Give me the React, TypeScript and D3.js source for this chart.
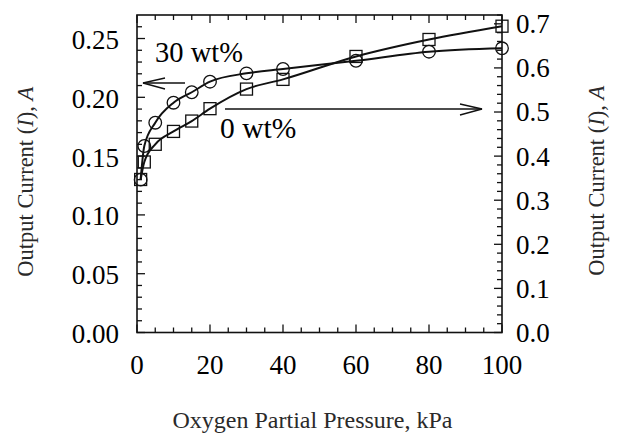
import React from "react";
import * as d3 from "d3";

const pressure = [1, 2, 5, 10, 15, 20, 30, 40, 60, 80, 100];
const current30 = [0.130, 0.1586, 0.1784, 0.1954, 0.2043, 0.2133, 0.2204, 0.2241, 0.2311, 0.2388, 0.2417];
const current0 = [0.347, 0.3867, 0.4268, 0.456, 0.4795, 0.5076, 0.552, 0.574, 0.626, 0.6645, 0.6946];
const xTickLabels = [0, 20, 40, 60, 80, 100];
const leftTickLabels = [0, 0.05, 0.1, 0.15, 0.2, 0.25];
const rightTickLabels = [0, 0.1, 0.2, 0.3, 0.4, 0.5, 0.6, 0.7];

const W = 619, H = 437;
const L = 137, R = 502, T = 15, B = 332.5;
const FONT = "'Liberation Serif', 'Times New Roman', serif";

export default function App() {
  const x = d3.scaleLinear().domain([0, 100]).range([L, R]);
  const yL = d3.scaleLinear().domain([0, 0.27]).range([B, T]);
  const yR = d3.scaleLinear().domain([0, 0.72]).range([B, T]);

  const xMinor = d3.range(0, 101, 5);
  const yLMinor = d3.range(0, 27, 1).map((v) => v / 100);
  const yRMinor = d3.range(0, 37, 1).map((v) => v / 50);

  const line30 = d3
    .line<number>()
    .x((_, i) => x(pressure[i]))
    .y((d) => yL(d))
    .curve(d3.curveMonotoneX)(current30) as string;
  const line0 = d3
    .line<number>()
    .x((_, i) => x(pressure[i]))
    .y((d) => yR(d))
    .curve(d3.curveMonotoneX)(current0) as string;

  const isMajX = (v: number) => v % 20 === 0;
  const isMajL = (v: number) => Math.abs(v * 100 - Math.round(v * 20) * 5) < 1e-6;
  const isMajR = (v: number) => Math.abs(v * 50 - Math.round(v * 10) * 5) < 1e-6;

  const stroke = "#111";

  return (
    <svg width={W} height={H} style={{ position: "absolute", left: 0, top: 0, background: "#fff" }} fontFamily={FONT}>
      <rect x={0} y={0} width={W} height={H} fill="#fff" />
      {/* ticks bottom & top */}
      {xMinor.map((v) => {
        const len = isMajX(v) ? 8 : 5;
        return (
          <g key={"x" + v}>
            <line x1={x(v)} x2={x(v)} y1={B} y2={B - len} stroke={stroke} strokeWidth={1.3} />
            <line x1={x(v)} x2={x(v)} y1={T} y2={T + len} stroke={stroke} strokeWidth={1.3} />
          </g>
        );
      })}
      {yLMinor.map((v) => {
        const len = isMajL(v) ? 8 : 5;
        return <line key={"l" + v} x1={L} x2={L + len} y1={yL(v)} y2={yL(v)} stroke={stroke} strokeWidth={1.3} />;
      })}
      {yRMinor.map((v) => {
        const len = isMajR(v) ? 8 : 5;
        return <line key={"r" + v} x1={R} x2={R - len} y1={yR(v)} y2={yR(v)} stroke={stroke} strokeWidth={1.3} />;
      })}
      <rect x={L} y={T} width={R - L} height={B - T} fill="none" stroke={stroke} strokeWidth={1.6} />

      {/* tick labels */}
      {xTickLabels.map((v) => (
        <text key={"xt" + v} x={x(v)} y={374} textAnchor="middle" fontSize={27} fill="#000">
          {v}
        </text>
      ))}
      {leftTickLabels.map((v) => (
        <text key={"lt" + v} x={119} y={yL(v) + 1} dy="0.35em" textAnchor="end" fontSize={27} fill="#000">
          {d3.format(".2f")(v)}
        </text>
      ))}
      {rightTickLabels.map((v) => (
        <text key={"rt" + v} x={516} y={yR(v)} dy="0.35em" textAnchor="start" fontSize={27} fill="#000">
          {d3.format(".1f")(v)}
        </text>
      ))}

      {/* axis titles */}
      <text x={312.5} y={428} textAnchor="middle" fontSize={24} fill="#2a2a2a">
        Oxygen Partial Pressure, kPa
      </text>
      <text transform={`translate(33,${(T + B) / 2 + 8}) rotate(-90)`} textAnchor="middle" fontSize={22.5} fill="#2a2a2a">
        Output Current (<tspan fontStyle="italic">I</tspan>), <tspan fontStyle="italic">A</tspan>
      </text>
      <text transform={`translate(604,${(T + B) / 2 + 7}) rotate(-90)`} textAnchor="middle" fontSize={22.5} fill="#2a2a2a">
        Output Current (<tspan fontStyle="italic">I</tspan>), <tspan fontStyle="italic">A</tspan>
      </text>

      {/* curves */}
      <path d={line30} fill="none" stroke={stroke} strokeWidth={2} />
      <path d={line0} fill="none" stroke={stroke} strokeWidth={2} />

      {/* markers */}
      {current30.map((v, i) => (
        <circle key={"c" + i} cx={x(pressure[i])} cy={yL(v)} r={6.3} fill="none" stroke={stroke} strokeWidth={1.3} />
      ))}
      {current0.map((v, i) => (
        <rect key={"s" + i} x={x(pressure[i]) - 6} y={yR(v) - 6} width={12} height={12} fill="none" stroke={stroke} strokeWidth={1.3} />
      ))}

      {/* annotations */}
      <text x={155} y={62} fontSize={28.5} fill="#000">30 wt%</text>
      <line x1={143} x2={185} y1={83} y2={83} stroke={stroke} strokeWidth={1.3} />
      <polyline points="165,78 143,83 165,89" fill="none" stroke={stroke} strokeWidth={1.3} />

      <text x={220} y={138} fontSize={29.5} fill="#000">0 wt%</text>
      <line x1={225} x2={482} y1={109} y2={109} stroke={stroke} strokeWidth={1.3} />
      <polyline points="460,104 482,109 460,115" fill="none" stroke={stroke} strokeWidth={1.3} />
    </svg>
  );
}
